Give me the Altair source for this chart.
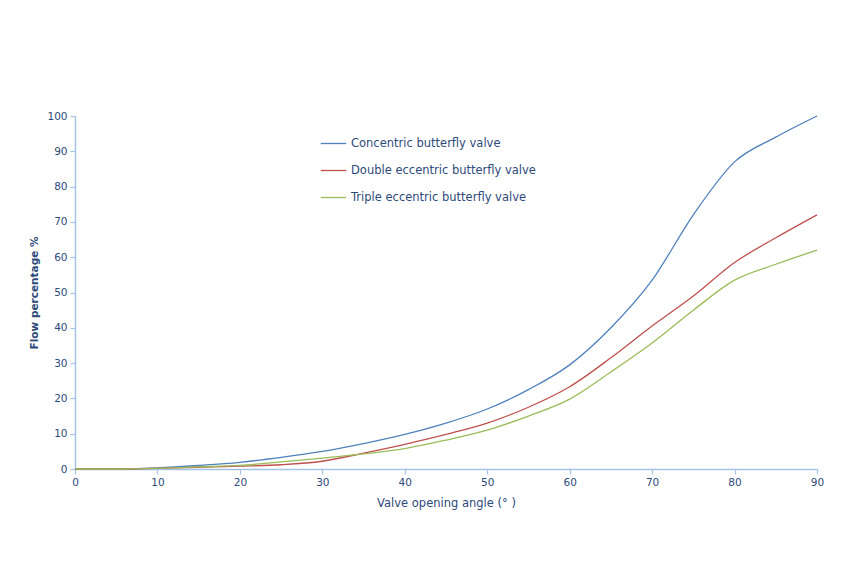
import altair as alt
import pandas as pd

angles = [0, 5, 10, 15, 20, 25, 30, 35, 40, 45, 50, 55, 60, 65, 70, 75, 80, 85, 90]
concentric = [0, 0, 0.3, 1.0, 1.9, 3.3, 5.0, 7.2, 9.8, 13, 17, 22.5, 29.5, 40, 53.5, 72, 87, 94, 100]
double_ecc = [0, 0, 0.2, 0.5, 0.8, 1.2, 2.2, 4.5, 7, 9.8, 13, 17.5, 23.3, 31.5, 40.5, 49, 58.5, 65.5, 72]
triple_ecc = [0, 0, 0.2, 0.6, 1.0, 2.0, 3.1, 4.3, 5.8, 8.2, 11, 15, 19.8, 27.5, 35.7, 45, 53.5, 58, 62]

names = ["Concentric butterfly valve", "Double eccentric butterfly valve", "Triple eccentric butterfly valve"]
colors = ["#4F81BD", "#C0504D", "#9BBB59"]

rows = []
for name, vals in zip(names, [concentric, double_ecc, triple_ecc]):
    for a, v in zip(angles, vals):
        rows.append({"angle": a, "flow": v, "series": name})
df = pd.DataFrame(rows)

axis_color = "#A4C3E6"
text_color = "#2E4A7A"
font = "DejaVu Sans"

chart = alt.Chart(df).mark_line(interpolate="monotone", strokeWidth=1.3).encode(
    x=alt.X("angle:Q", scale=alt.Scale(domain=[0, 90], nice=False),
            axis=alt.Axis(values=list(range(0, 91, 10)), title="Valve opening angle (°  )",
                          grid=False, domainColor=axis_color, tickColor=axis_color,
                          domainWidth=1.5, tickWidth=1.2,
                          labelColor=text_color, titleColor=text_color, labelFontSize=10.5,
                          titleFontSize=11.5, titleFontWeight="normal", tickSize=5,
                          labelPadding=3, titlePadding=10, labelFont=font, titleFont=font,
                          labelFlush=False)),
    y=alt.Y("flow:Q", scale=alt.Scale(domain=[0, 100], nice=False),
            axis=alt.Axis(values=list(range(0, 101, 10)), title="Flow percentage %",
                          grid=False, domainColor=axis_color, tickColor=axis_color,
                          domainWidth=1.5, tickWidth=1.2,
                          labelColor=text_color, titleColor=text_color, labelFontSize=10.5,
                          titleFontSize=10.5, titleFontWeight="bold", tickSize=5,
                          labelPadding=3, titlePadding=7, labelFont=font, titleFont=font,
                          labelFlush=False)),
    color=alt.Color("series:N", scale=alt.Scale(domain=names, range=colors),
                    legend=alt.Legend(title=None, orient="none", legendX=245, legendY=14,
                                      symbolType="stroke", symbolSize=650, symbolStrokeWidth=1.3,
                                      labelFontSize=11.5, labelColor=text_color, labelFont=font,
                                      labelLimit=0, rowPadding=8, labelOffset=4)),
).properties(
    width=742, height=353,
    autosize=alt.AutoSizeParams(type="none"),
    padding={"left": 67, "top": 108, "right": 30, "bottom": 60},
).configure_view(stroke=None)

chart.save("out.html", embed_options={"renderer": "svg", "actions": False})
